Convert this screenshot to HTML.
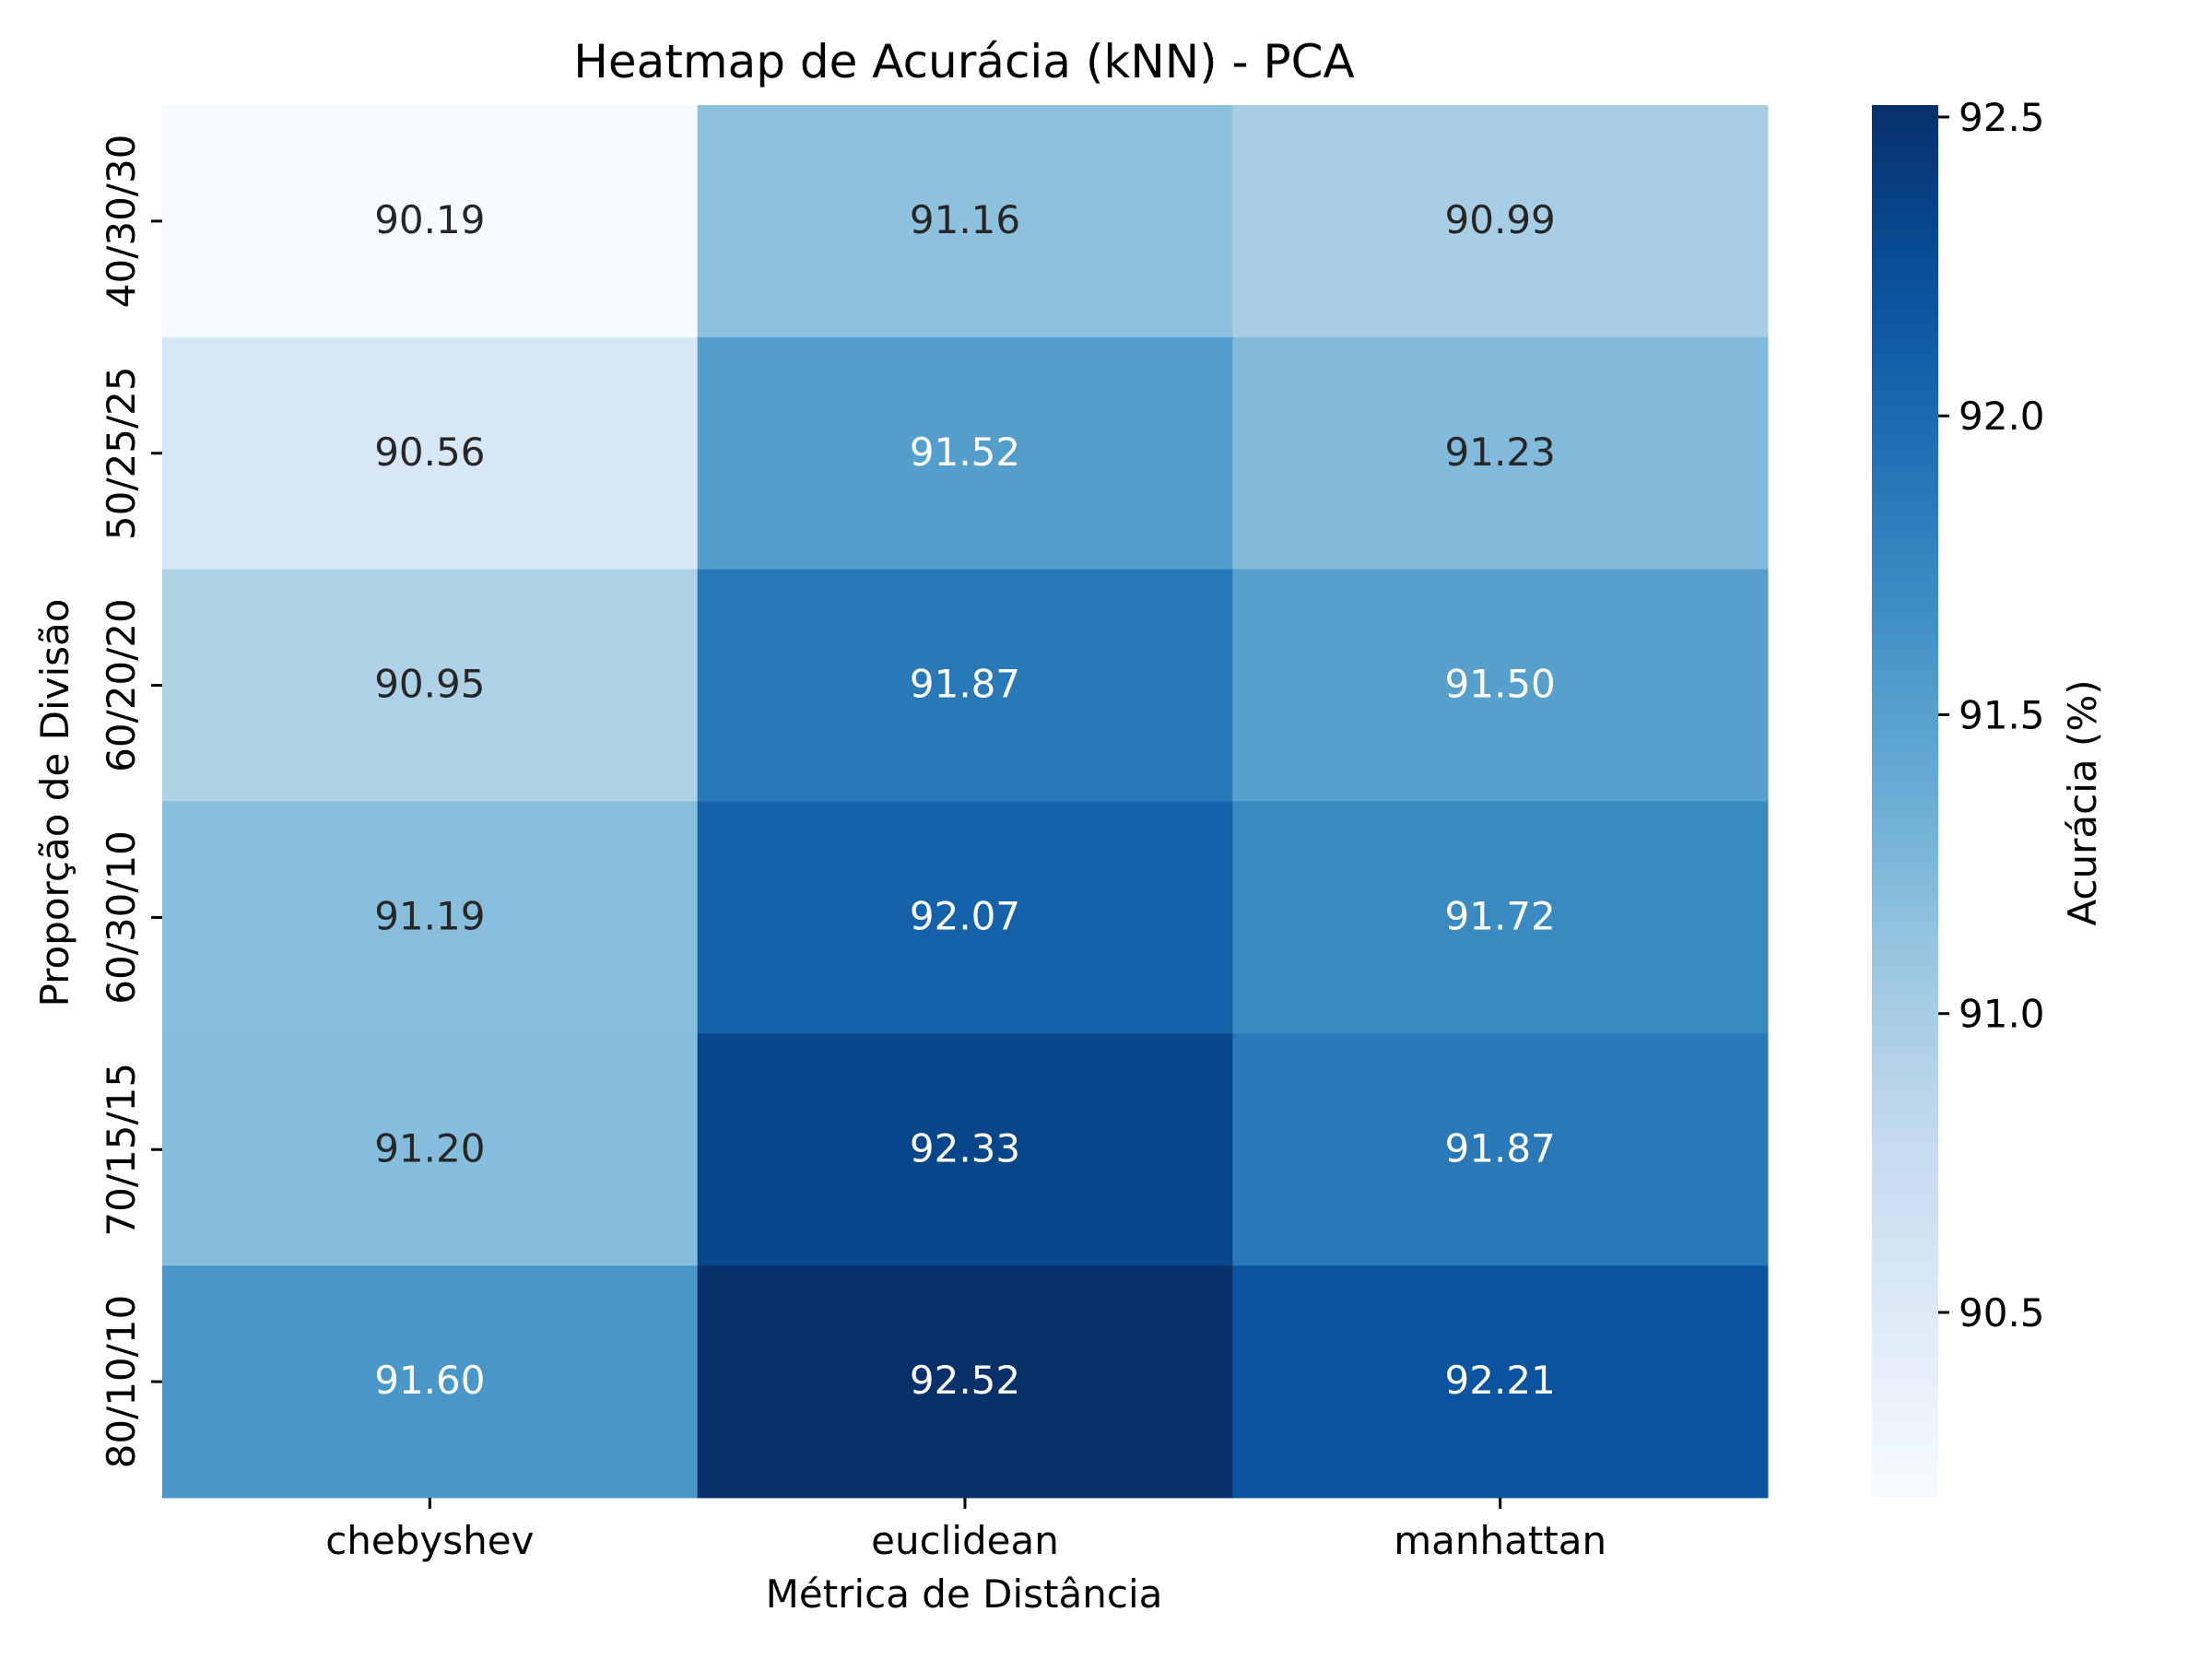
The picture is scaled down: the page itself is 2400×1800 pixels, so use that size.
<!DOCTYPE html>
<html><head><meta charset="utf-8"><style>
html,body{margin:0;padding:0;background:#fff;}
svg{display:block;font-family:"DejaVu Sans","Liberation Sans",sans-serif;}
</style></head><body>
<svg id="chart" width="2400" height="1800" viewBox="0 0 2400 1800" xmlns="http://www.w3.org/2000/svg">
<defs><linearGradient id="cbgrad" x1="0" y1="1" x2="0" y2="0"></linearGradient></defs>
<text x="1046" y="84" font-size="50" text-anchor="middle" fill="#000">Heatmap de Acurácia (kNN) - PCA</text>
<text x="1046" y="1744" font-size="42" text-anchor="middle" fill="#000">Métrica de Distância</text>
<text x="0" y="0" font-size="42" text-anchor="middle" fill="#000" transform="translate(74,871) rotate(-90)">Proporção de Divisão</text>
<text x="0" y="0" font-size="42" text-anchor="middle" fill="#000" transform="translate(2274,871) rotate(-90)">Acurácia (%)</text>
<g id="cells"></g><g id="ticks"></g><g id="cbar"></g>
</svg>
<script>
const rows = ["40/30/30","50/25/25","60/20/20","60/30/10","70/15/15","80/10/10"];
const cols = ["chebyshev","euclidean","manhattan"];
const chebyshevVals = [90.19,90.56,90.95,91.19,91.20,91.60];
const euclideanVals = [91.16,91.52,91.87,92.07,92.33,92.52];
const manhattanVals = [90.99,91.23,91.50,91.72,91.87,92.21];
const cbTicks = [90.5,91.0,91.5,92.0,92.5];

const series=[chebyshevVals,euclideanVals,manhattanVals];
const all=series.flat();
const vmin=Math.min(...all), vmax=Math.max(...all);
const L=176,R=1918,T=114,B=1625;
const cw=(R-L)/cols.length, ch=(B-T)/rows.length;
const stops=["#f7fbff","#deebf7","#c6dbef","#9ecae1","#6baed6","#4292c6","#2171b5","#08519c","#08306b"].map(h=>[1,3,5].map(i=>parseInt(h.substr(i,2),16)));
function cmap(t){t=Math.max(0,Math.min(1,t));const p=t*(stops.length-1);const i=Math.min(Math.floor(p),stops.length-2);const f=p-i;return stops[i].map((c,k)=>c+(stops[i+1][k]-c)*f);}
function rgb(c){return "rgb("+c.map(Math.round).join(",")+")";}
function lum(c){const l=c.map(v=>{v/=255;return v<=0.03928?v/12.92:Math.pow((v+0.055)/1.055,2.4);});return 0.2126*l[0]+0.7152*l[1]+0.0722*l[2];}
const NS="http://www.w3.org/2000/svg";
function mk(tag,attrs,parent){const e=document.createElementNS(NS,tag);for(const k in attrs)e.setAttribute(k,attrs[k]);parent.appendChild(e);return e;}
const xs=j=>L+j*cw, ys=i=>T+i*ch;
const cells=document.getElementById('cells'), ticks=document.getElementById('ticks'), cbar=document.getElementById('cbar');
series.forEach((vals,j)=>{vals.forEach((v,i)=>{
  const c=cmap((v-vmin)/(vmax-vmin));
  const r=mk('rect',{x:xs(j),y:ys(i),width:cw+0.5,height:ch+0.5,fill:rgb(c)},cells);
  
  
  const t=mk('text',{x:xs(j)+cw/2,y:ys(i)+ch/2+13,'font-size':42,'text-anchor':'middle',fill:lum(c)>0.408?'#262626':'#ffffff'},cells);
  t.textContent=v.toFixed(2);
  
  
});});
rows.forEach((r,i)=>{const y=ys(i)+ch/2;
  const l=mk('line',{x1:L-12,x2:L,y1:y,y2:y,stroke:'#000','stroke-width':3},ticks);
  
  
  const t=mk('text',{x:0,y:0,'font-size':42,'text-anchor':'middle',fill:'#000',transform:'translate(146,'+y+') rotate(-90)'},ticks);
  t.textContent=r;
  
  
});
cols.forEach((c,j)=>{const x=xs(j)+cw/2;
  const l=mk('line',{x1:x,x2:x,y1:B,y2:B+12,stroke:'#000','stroke-width':3},ticks);
  
  
  const t=mk('text',{x:x,y:1686,'font-size':42,'text-anchor':'middle',fill:'#000'},ticks);
  t.textContent=c;
  
  
});
const g=document.getElementById('cbgrad');
for(let k=0;k<=20;k++){mk('stop',{offset:(k/20),'stop-color':rgb(cmap(k/20))},g);}
const CL=2031,CR=2103;
const cb=mk('rect',{x:CL,y:T,width:CR-CL,height:B-T,fill:'url(#cbgrad)'},cbar);


const cy=v=>B-(v-vmin)/(vmax-vmin)*(B-T);
cbTicks.forEach(v=>{const y=cy(v);
  const l=mk('line',{x1:CR,x2:CR+12,y1:y,y2:y,stroke:'#000','stroke-width':3},cbar);
  
  
  const t=mk('text',{x:CR+22,y:y+15,'font-size':42,fill:'#000'},cbar);
  t.textContent=v.toFixed(1);
  
  
});
</script>
</body></html>
